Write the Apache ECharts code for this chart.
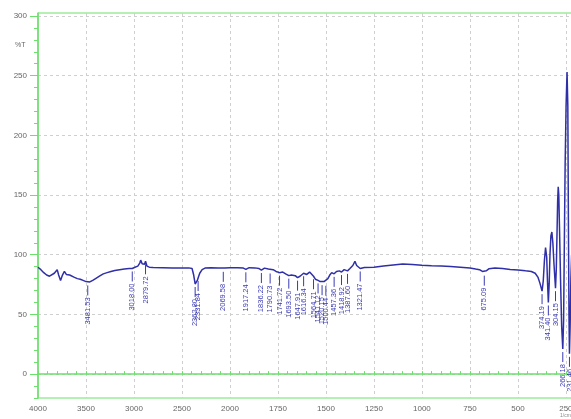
<!DOCTYPE html>
<html><head><meta charset="utf-8">
<script src="https://cdn.jsdelivr.net/npm/echarts@6/dist/echarts.min.js"></script>
<style>html,body{margin:0;padding:0;background:#fff}#c{width:571px;height:419px}</style>
</head><body><div id="c"></div>
<script>
// Wavenumber (1/cm) and %T
const wavenumbers = [4000,3970,3940,3910,3880,3860,3830,3800,3785,3765,3745,3725,3705,3690,3670,3650,3620,3590,3560,3530,3500,3481.53,3460,3430,3400,3360,3320,3280,3240,3200,3150,3100,3050,3018.00,2990,2960,2940,2930,2915,2900,2890,2879.72,2865,2840,2800,2700,2600,2500,2430,2395,2378,2362.80,2350,2340,2331.84,2315,2290,2260,2200,2120,2080,2069.58,2055,2000,1960,1930,1917.24,1900,1870,1850,1836.22,1820,1800,1790.73,1775,1760,1741.72,1725,1710,1693.50,1680,1670,1660,1647.91,1635,1625,1616.34,1600,1585,1575,1564.71,1555,1541.12,1530,1520.15,1510,1500.44,1490,1480,1470,1457.36,1445,1430,1418.92,1405,1387.60,1375,1360,1349,1340,1330,1321.47,1300,1250,1200,1150,1100,1050,1000,950,900,850,800,750,720,700,685,675.09,665,650,620,580,540,500,460,430,410,395,385,374.19,368,362,356,350,346,341.40,337,333,328,323,318,312,307,304.15,300,296,293,290,287,283,278,272,266.18,262,258,254,249,244,240,237,234,231.46,228,224,220,210,200];
const transmittance = [89.5,87.5,85,83,82,82.5,84.5,87.5,83,78.5,83,86,83.5,85,83,82,81,80,79.5,78.5,77.5,76.8,77.2,78.5,80,82,84,85,86,86.8,87.5,88,88.4,88.5,89.5,90.5,93,95.5,92.5,91,92,94.5,90.5,89.6,89.3,89.2,89,88.9,89,88.5,83,75.5,76.5,78.5,80.5,84.5,87.5,88.8,89.2,89,89,88.2,89,89.2,89.1,88.8,87.8,89.2,89,88.5,87.2,88.8,88,86.8,87.5,86,85,85.5,84,82.5,83,81.5,82.5,80.8,82,83.5,84.5,83.5,85.5,86.5,82,79.5,78.5,77.5,77,77.5,76.5,80,83,85,84,86,86.5,85.5,87.5,86.5,88.5,91,94.5,91,89.5,88.5,89.3,89.5,90.5,91.5,92.2,91.8,91.2,90.8,90.5,90.2,89.6,88.8,88,87.5,86,85,86.5,88.3,88.8,88.4,87.7,87.2,86.5,86,84.5,81,76,69.5,78,95,106,98,78,60,76,100,116,119,110,92,79,72,88,120,145,157,150,120,80,40,21,45,110,175,225,253,225,130,50,17,40,80,100,95,90];
// Peak labels
const peakLabels = ["3481.53","3018.00","2879.72","2362.80","2331.84","2069.58","1917.24","1836.22","1790.73","1741.72","1693.50","1647.91","1616.34","1564.71","1541.12","1520.15","1500.44","1457.36","1418.92","1387.60","1321.47","675.09","374.19","341.40","304.15","266.18","231.46"];
// Axis tick labels
const xTickLabels = [4000,3500,3000,2500,2000,1750,1500,1250,1000,750,500,250];
const yTickLabels = [0,50,100,150,200,250,300];

// axis is compressed 2:1 above 2000 1/cm
const toT = w => w > 2000 ? 2000 + (w - 2000) / 2 : w;
const fromT = t => t > 2000 ? 2000 + (t - 2000) * 2 : t;

const lineData = wavenumbers.map((w, i) => [toT(w), transmittance[i]]);
const peakData = peakLabels.map(s => {
  const w = parseFloat(s);
  const i = wavenumbers.indexOf(w);
  return [toT(w), transmittance[i]];
});
const xMajor = xTickLabels.map(toT);
const xMinor = [];
for (let t = 250; t <= 3000; t += 50) xMinor.push(t);
const yMinor = [];
for (let v = -20; v <= 300; v += 10) yMinor.push(v);

const GREEN = '#6be06b';
const BLUE = '#2f2fa8';
const FONT = '"Liberation Sans", Arial, sans-serif';

const chart = echarts.init(document.getElementById('c'));
chart.setOption({
  animation: false,
  backgroundColor: '#fff',
  grid: { left: 38, right: -2, top: 13, bottom: 21, containLabel: false, outerBoundsMode: 'none',
    show: true, borderColor: GREEN, borderWidth: 1, backgroundColor: 'transparent' },
  xAxis: [
    { type: 'value', inverse: true, min: 213, max: 3000, position: 'bottom',
      axisLine: { show: true, lineStyle: { color: GREEN, width: 1.5 } },
      axisTick: { show: true, inside: true, length: 3, customValues: xMinor, lineStyle: { color: GREEN } },
      axisLabel: { show: false }, splitLine: { show: false } },
    { type: 'value', inverse: true, min: 213, max: 3000, position: 'bottom',
      axisLine: { show: false },
      axisTick: { show: false, customValues: xMajor },
      axisLabel: { show: true, customValues: xMajor, margin: 7, color: '#666', fontSize: 8, fontFamily: FONT,
        formatter: v => String(Math.round(fromT(v))) },
      splitLine: { show: true, lineStyle: { color: '#cfcfcf', type: [3, 3], width: 1 } } }
  ],
  yAxis: [
    { type: 'value', min: -20, max: 302.5, position: 'left',
      axisLine: { show: true, lineStyle: { color: GREEN, width: 1.5 } },
      axisTick: { show: true, length: 8, customValues: yTickLabels, lineStyle: { color: GREEN } },
      axisLabel: { show: true, customValues: yTickLabels, margin: 11, color: '#666', fontSize: 8, fontFamily: FONT },
      splitLine: { show: true, lineStyle: { color: '#cfcfcf', type: [3, 3], width: 1 } } },
    { type: 'value', min: -20, max: 302.5, position: 'left',
      axisLine: { show: false },
      axisTick: { show: true, length: 4, customValues: yMinor, lineStyle: { color: GREEN } },
      axisLabel: { show: false }, splitLine: { show: false } }
  ],
  graphic: [
    { type: 'text', left: 15, top: 42, style: { text: '%T', fill: '#666', font: '7px ' + FONT } },
    { type: 'text', left: 560, top: 413, style: { text: '1/cm', fill: '#888', font: '5px ' + FONT } }
  ],
  series: [
    { type: 'line', xAxisIndex: 0, yAxisIndex: 0, data: lineData, showSymbol: false, symbol: 'none',
      lineStyle: { color: BLUE, width: 1.5 }, z: 3 },
    { type: 'custom', xAxisIndex: 0, yAxisIndex: 0, data: peakData, clip: false, z: 4,
      renderItem: (params, api) => {
        const p = api.coord([api.value(0), api.value(1)]);
        const label = peakLabels[params.dataIndex];
        return { type: 'group', children: [
          { type: 'line', shape: { x1: p[0], y1: p[1] + 3, x2: p[0], y2: p[1] + 13 },
            style: { stroke: '#3a3ab4', lineWidth: 1 } },
          { type: 'text', x: p[0], y: p[1] + 15, rotation: Math.PI / 2,
            style: { text: label, align: 'right', verticalAlign: 'middle', fill: '#3a3ab4', font: '7.5px ' + FONT } }
        ] };
      } }
  ]
});
</script></body></html>
